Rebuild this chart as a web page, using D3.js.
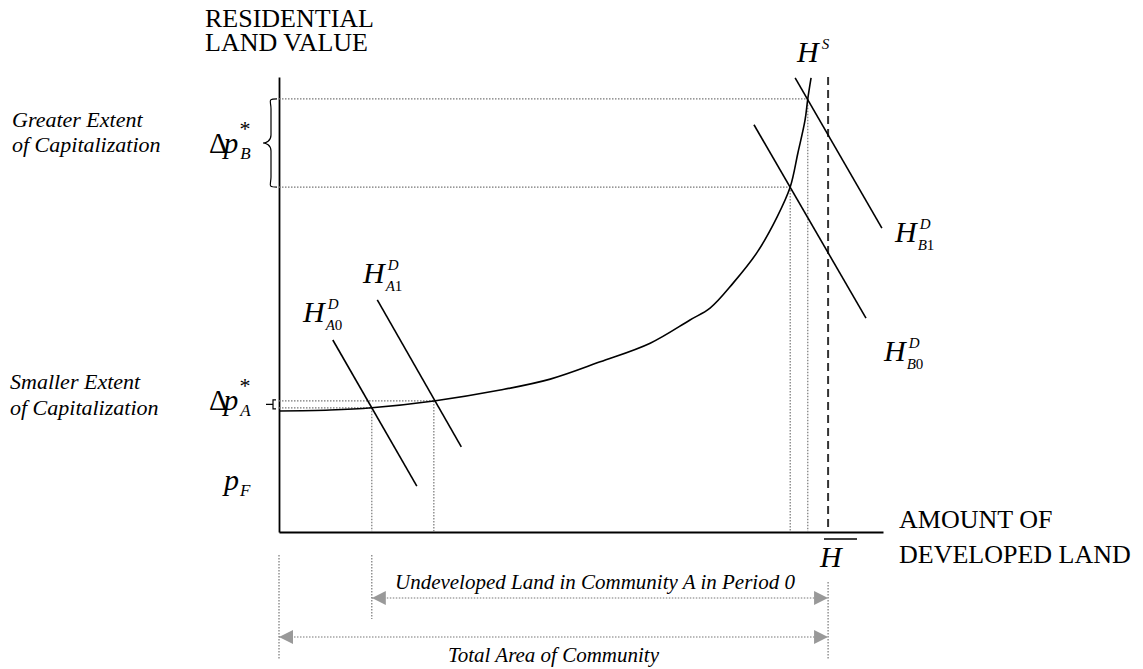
<!DOCTYPE html>
<html>
<head>
<meta charset="utf-8">
<script src="https://cdn.jsdelivr.net/npm/d3@7"></script>
<style>
  body { margin: 0; background: #fff; }
  text { font-family: "Liberation Serif", "Times New Roman", serif; fill: #000; }
  .cap { font-size: 26px; }
  .note { font-size: 22px; font-style: italic; }
  .span { font-size: 21px; font-style: italic; }
  .big { font-size: 30px; font-style: italic; }
  .sm { font-size: 15px; font-style: italic; }
</style>
</head>
<body>
<div id="chart"></div>
<script>
// supply curve H^S (land value against amount of developed land)
var supplyX = [0, 9.3, 16.9, 28.2, 40.3, 49.4, 58.5, 67.6, 74.85, 78.5, 82.7, 87.1, 90.7, 93.1, 94.5, 95.8, 96.3, 96.9];
var supplyY = [26.6, 26.8, 27.3, 28.8, 31.2, 33.6, 37.4, 41.5, 46.6, 49.2, 54.7, 61.5, 69.2, 75.8, 83.3, 90.5, 95.2, 99.8];

// demand curves: start and end of each segment
var demandNames = ["A0", "A1", "B0", "B1"];
var demandX0 = [9.8, 17.9, 86.5, 94.0];
var demandY0 = [42.2, 51.0, 89.5, 99.8];
var demandX1 = [25.1, 33.2, 106.9, 109.8];
var demandY1 = [10.1, 18.7, 47.0, 66.8];

// equilibria (A0, A1, B0, B1)
var eqX = [16.9, 28.2, 93.1, 96.3];
var eqY = [27.3, 28.8, 75.8, 95.2];

var hBar = 100;          // total area of community
var xMax = 110, yMax = 100;

var width = 1143, height = 669;

var svg = d3.select("#chart").append("svg")
    .attr("width", width)
    .attr("height", height);

var x = d3.scaleLinear().domain([0, xMax]).range([279, 883]);
var y = d3.scaleLinear().domain([0, yMax]).range([532, 77]);

// arrow head
svg.append("defs").append("marker")
    .attr("id", "tri")
    .attr("viewBox", "0 0 14 14")
    .attr("refX", 14).attr("refY", 7)
    .attr("markerWidth", 14).attr("markerHeight", 14)
    .attr("markerUnits", "userSpaceOnUse")
    .attr("orient", "auto-start-reverse")
    .append("path")
    .attr("d", "M0,0L14,7L0,14Z")
    .attr("fill", "#999");

// axes
var yAxis = d3.axisLeft(y).tickValues([]).tickSizeOuter(0);
var xAxis = d3.axisBottom(x).tickValues([]).tickSizeOuter(0);
svg.append("g").attr("transform", "translate(" + x(0) + ",0)").call(yAxis)
    .select(".domain").attr("stroke", "#000").attr("stroke-width", 1.8);
svg.append("g").attr("transform", "translate(0," + y(0) + ")").call(xAxis)
    .select(".domain").attr("stroke", "#000").attr("stroke-width", 1.8);

// dotted guide lines from equilibria
var dotted = function(x1, y1, x2, y2) {
    return svg.append("line")
        .attr("x1", x1).attr("y1", y1).attr("x2", x2).attr("y2", y2)
        .attr("stroke", "#777").attr("stroke-width", 1.2)
        .attr("stroke-dasharray", "1.5,1.5");
};
eqX.forEach(function(d, i) {
    dotted(x(0), y(eqY[i]), x(d), y(eqY[i]));
    dotted(x(d), y(eqY[i]), x(d), y(0));
});

// total area line
svg.append("line")
    .attr("x1", x(hBar)).attr("x2", x(hBar))
    .attr("y1", y(yMax)).attr("y2", y(0))
    .attr("stroke", "#333").attr("stroke-width", 2)
    .attr("stroke-dasharray", "8,5");

// supply curve
var supply = supplyX.map(function(d, i) { return [d, supplyY[i]]; });
svg.append("path")
    .datum(supply)
    .attr("fill", "none")
    .attr("stroke", "#000")
    .attr("stroke-width", 1.6)
    .attr("d", d3.line()
        .x(function(d) { return x(d[0]); })
        .y(function(d) { return y(d[1]); })
        .curve(d3.curveCatmullRom.alpha(0.5)));

// demand curves
svg.selectAll(".demand")
    .data(demandNames)
    .enter().append("line")
    .attr("class", "demand")
    .attr("x1", function(d, i) { return x(demandX0[i]); })
    .attr("y1", function(d, i) { return y(demandY0[i]); })
    .attr("x2", function(d, i) { return x(demandX1[i]); })
    .attr("y2", function(d, i) { return y(demandY1[i]); })
    .attr("stroke", "#000")
    .attr("stroke-width", 1.6);

// braces on the value axis
svg.append("path")
    .attr("d", (function() {
        var xr = x(0) - 2, xl = x(0) - 16, t = y(eqY[3]), b = y(eqY[2]), m = (t + b) / 2;
        return "M" + xr + "," + t + " C" + (xl + 4) + "," + t + " " + (xl + 8) + "," + (t + 2) + " " + (xl + 8) + "," + (t + 10)
            + " L" + (xl + 8) + "," + (m - 8) + " C" + (xl + 8) + "," + (m - 2) + " " + (xl + 3) + "," + m + " " + xl + "," + m
            + " C" + (xl + 3) + "," + m + " " + (xl + 8) + "," + (m + 2) + " " + (xl + 8) + "," + (m + 8)
            + " L" + (xl + 8) + "," + (b - 10) + " C" + (xl + 8) + "," + (b - 2) + " " + (xl + 4) + "," + b + " " + xr + "," + b;
    })())
    .attr("fill", "none").attr("stroke", "#000").attr("stroke-width", 1.2);

svg.append("path")
    .attr("d", (function() {
        var xr = x(0) - 3, xl = x(0) - 13, t = y(eqY[1]), b = y(eqY[0]), m = (t + b) / 2;
        return "M" + xr + "," + (t - 1) + " L" + (xl + 7) + "," + (t - 1) + " L" + (xl + 7) + "," + (b + 1) + " L" + xr + "," + (b + 1)
            + " M" + (xl + 7) + "," + m + " L" + xl + "," + m;
    })())
    .attr("fill", "none").attr("stroke", "#000").attr("stroke-width", 1.2);

// axis titles (two lines each)
function twoLines(px, py, gap, a, b) {
    var t = svg.append("text").attr("class", "cap").attr("x", px).attr("y", py);
    t.append("tspan").attr("x", px).text(a);
    t.append("tspan").attr("x", px).attr("dy", gap).text(b);
}
twoLines(205, 27, 24, "RESIDENTIAL", "LAND VALUE");
twoLines(899, 528, 35, "AMOUNT OF", "DEVELOPED LAND");

// side notes
svg.append("text").attr("class", "note").attr("x", 12).attr("y", 127).text("Greater Extent");
svg.append("text").attr("class", "note").attr("x", 12).attr("y", 152).text("of Capitalization");
svg.append("text").attr("class", "note").attr("x", 10).attr("y", 389).text("Smaller Extent");
svg.append("text").attr("class", "note").attr("x", 10).attr("y", 415).text("of Capitalization");

// delta p labels, one text each
function deltaP(px, py, sub) {
    var t = svg.append("text").attr("x", px).attr("y", py).style("font-size", "29px");
    t.append("tspan").text("\u0394");
    t.append("tspan").attr("dx", -4).style("font-style", "italic").text("p");
    t.append("tspan").attr("dx", 2).attr("dy", 6).style("font-size", "17px").style("font-style", "italic").text(sub);
    t.append("tspan").attr("dx", -11).attr("dy", -23).style("font-size", "22px").text("*");
}
deltaP(209, 153, "B");
deltaP(209, 410, "A");

// p_F
var pf = svg.append("text").attr("class", "big").attr("x", 224).attr("y", 490);
pf.append("tspan").text("p");
pf.append("tspan").attr("dx", 1).attr("dy", 6).style("font-size", "17px").text("F");

// H labels
function hLabel(px, py, sup, sub) {
    var t = svg.append("text").attr("class", "big").attr("x", px).attr("y", py).text("H");
    var w = t.node().getComputedTextLength();
    if (sup) svg.append("text").attr("class", "sm").attr("x", px + w + 3).attr("y", py - 13).text(sup);
    if (sub) {
        var s = svg.append("text").attr("class", "sm").attr("x", px + w + 1).attr("y", py + 8);
        s.append("tspan").text(sub.charAt(0));
        s.append("tspan").style("font-style", "normal").text(sub.slice(1));
    }
}
hLabel(797, 62, "S", null);
hLabel(303, 322, "D", "A0");
hLabel(363, 283, "D", "A1");
hLabel(884, 361, "D", "B0");
hLabel(895, 242, "D", "B1");

// H bar
svg.append("text").attr("class", "big").attr("x", 820).attr("y", 567).text("H");
svg.append("line").attr("x1", 824).attr("x2", 857).attr("y1", 539).attr("y2", 539)
    .attr("stroke", "#000").attr("stroke-width", 1.5);

// spans below the axis
dotted(x(0), 555, x(0), 660);
dotted(x(eqX[0]), 555, x(eqX[0]), 619);
dotted(x(hBar), 582, x(hBar), 660);

dotted(x(eqX[0]), 598, x(hBar), 598)
    .attr("marker-start", "url(#tri)").attr("marker-end", "url(#tri)");
dotted(x(0), 637, x(hBar), 637)
    .attr("marker-start", "url(#tri)").attr("marker-end", "url(#tri)");

svg.append("text").attr("class", "span").attr("x", (x(eqX[0]) + x(hBar)) / 2 - 5).attr("y", 589)
    .attr("text-anchor", "middle").text("Undeveloped Land in Community A in Period 0");
svg.append("text").attr("class", "span").attr("x", (x(0) + x(hBar)) / 2).attr("y", 662)
    .attr("text-anchor", "middle").text("Total Area of Community");
</script>
</body>
</html>
